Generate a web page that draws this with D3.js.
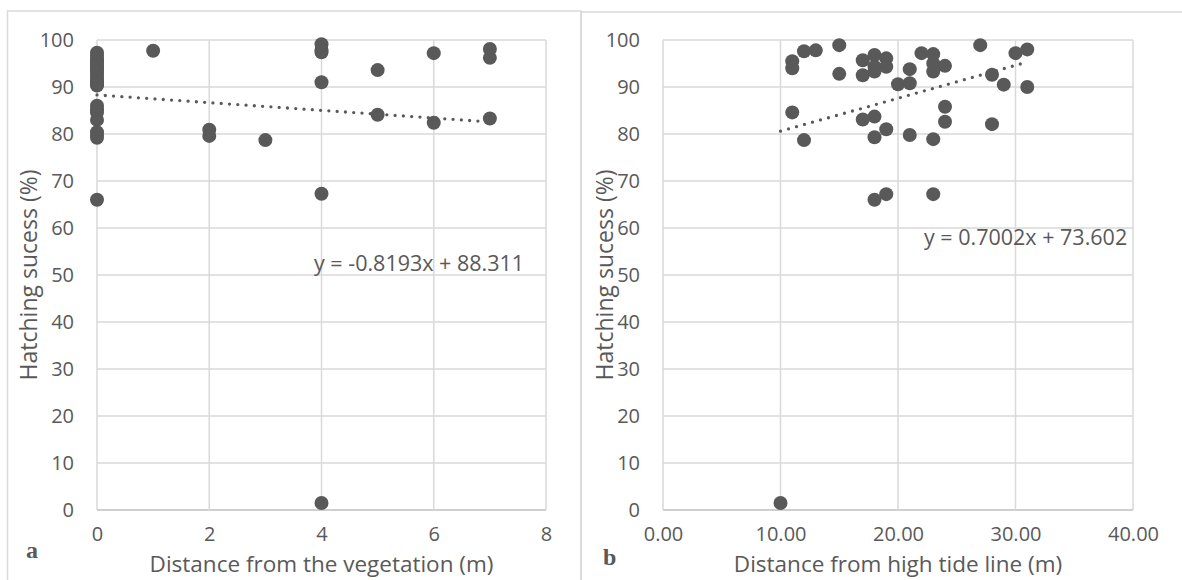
<!DOCTYPE html>
<html><head><meta charset="utf-8">
<script src="https://cdn.jsdelivr.net/npm/d3@7"></script>
<style>
html,body{margin:0;padding:0;background:#fff;}
text{font-family:"Open Sans",sans-serif;fill:#595959;}
</style></head>
<body>
<svg id="c" width="1182" height="580"></svg>
<script>
// ---- Data ----
// Panel a: distance from the vegetation (m) vs hatching success (%)
const vegX = [0,0,0,0,0,0,0,0,0,0,0,0,0,0,0,0,0,0,0,0,0,0,0,0,0,
              1,2,2,3,4,4,4,4,4,4,5,5,6,6,7,7,7];
const vegY = [97.3,96.8,96.2,95.6,95.0,94.4,93.8,93.2,92.6,92.0,91.4,90.8,90.3,
              86.0,85.2,84.6,83.0,80.4,79.8,79.2,66.0,94.0,95.5,91.0,90.5,
              97.7,80.9,79.6,78.7,99.1,97.9,97.4,91.0,67.3,1.5,93.6,84.1,97.2,82.4,98.1,96.2,83.3];
// Panel b: distance from high tide line (m) vs hatching success (%)
const tideX = [10,11,11,11,12,12,13,15,15,17,17,17,18,18,18,18,18,18,19,19,19,19,
               20,21,21,21,22,23,23,23,23,23,24,24,24,27,28,28,29,30,31,31];
const tideY = [1.5,95.5,94.0,84.6,97.6,78.7,97.8,98.9,92.8,95.7,92.5,83.1,96.8,94.3,93.3,83.7,79.3,66.0,96.1,94.3,81.0,67.2,
               90.6,93.8,90.8,79.8,97.2,97.0,95.0,93.3,78.9,67.2,94.5,85.8,82.6,98.9,92.6,82.1,90.5,97.2,98.0,90.0];
// Axis ticks and labels
const yTicks = [0,10,20,30,40,50,60,70,80,90,100];
const vegTicks = [0,2,4,6,8];
const tideTicks = [0,10,20,30,40];
const yTitle = "Hatching sucess (%)";
const vegTitle = "Distance from the vegetation (m)";
const tideTitle = "Distance from high tide line (m)";
// Trend lines (slope, intercept, x-range)
const vegTrend = {slope:-0.8193, intercept:88.311, from:0, to:7, label:"y = -0.8193x + 88.311"};
const tideTrend = {slope:0.7002, intercept:73.602, from:10, to:31, label:"y = 0.7002x + 73.602"};

const svg = d3.select("#c");
const grey = "#595959";

// panel borders
svg.append("rect").attr("x",7.5).attr("y",11).attr("width",573.5).attr("height",600)
  .attr("fill","none").attr("stroke","#d9d9d9").attr("stroke-width",1.5);
svg.append("rect").attr("x",581).attr("y",12).attr("width",700).attr("height",600)
  .attr("fill","none").attr("stroke","#d9d9d9").attr("stroke-width",1.5);

function panel(o){
  const x = d3.scaleLinear().domain(o.xDomain).range(o.xRange);
  const y = d3.scaleLinear().domain([0,100]).range([510,40]);
  const g = svg.append("g");
  // grid
  g.append("g").selectAll("line").data(yTicks).join("line")
    .attr("x1",x(o.xDomain[0])).attr("x2",x(o.xDomain[1]))
    .attr("y1",d=>y(d)).attr("y2",d=>y(d))
    .attr("stroke",d=>d===0?"#bfbfbf":"#d9d9d9").attr("stroke-width",1.5);
  g.append("g").selectAll("line").data(o.xTicks).join("line")
    .attr("x1",d=>x(d)).attr("x2",d=>x(d))
    .attr("y1",y(0)).attr("y2",y(100))
    .attr("stroke","#d9d9d9").attr("stroke-width",1.5);
  // y axis labels
  const ya = d3.axisLeft(y).tickValues(yTicks).tickSize(0).tickPadding(23);
  const yg = g.append("g").attr("transform",`translate(${x(o.xDomain[0])},0)`).call(ya);
  yg.select(".domain").remove();
  yg.selectAll("text").style("font-size","20px").attr("fill",grey).attr("font-family","Open Sans");
  // x axis labels
  const xa = d3.axisBottom(x).tickValues(o.xTicks).tickSize(0).tickPadding(17).tickFormat(o.fmt);
  const xg = g.append("g").attr("transform",`translate(0,${y(0)})`).call(xa);
  xg.select(".domain").remove();
  xg.selectAll("text").style("font-size","20px").attr("fill",grey).attr("font-family","Open Sans");
  // titles
  g.append("text").attr("x",(x(o.xDomain[0])+x(o.xDomain[1]))/2).attr("y",572)
    .attr("text-anchor","middle").style("font-size","22.5px").text(o.xTitle);
  g.append("text").attr("transform",`translate(${o.yTitleX},275) rotate(-90)`)
    .attr("text-anchor","middle").style("font-size","23px").text(yTitle);
  // panel letter
  g.append("text").attr("x",o.letterX).attr("y",o.letterY)
    .style("font-family","Liberation Serif, serif").style("font-weight","bold")
    .style("font-size","24px").attr("fill","#404040").text(o.letter);
  // trend line
  const t = o.trend;
  const tl = [t.from,t.to].map(v=>[x(v),y(t.slope*v+t.intercept)]);
  g.append("path").attr("d",d3.line()(tl)).attr("fill","none").attr("stroke",grey)
    .attr("stroke-width",3.3).attr("stroke-linecap","round").attr("stroke-dasharray","0,8.3");
  // points
  g.append("g").selectAll("circle").data(o.xs.map((v,i)=>[v,o.ys[i]])).join("circle")
    .attr("cx",d=>x(d[0])).attr("cy",d=>y(d[1])).attr("r",7).attr("fill",grey);
  // equation
  g.append("text").attr("x",o.eqX).attr("y",o.eqY).style("font-size","21.5px").text(t.label);
}

panel({xDomain:[0,8],xRange:[97,546],xTicks:vegTicks,fmt:d3.format("d"),xs:vegX,ys:vegY,
  xTitle:vegTitle,yTitleX:37,letter:"a",letterX:26,letterY:558,trend:vegTrend,eqX:314,eqY:271});
panel({xDomain:[0,40],xRange:[663,1133],xTicks:tideTicks,fmt:d3.format(".2f"),xs:tideX,ys:tideY,
  xTitle:tideTitle,yTitleX:613,letter:"b",letterX:603,letterY:565,trend:tideTrend,eqX:924,eqY:245});
</script>
</body></html>
